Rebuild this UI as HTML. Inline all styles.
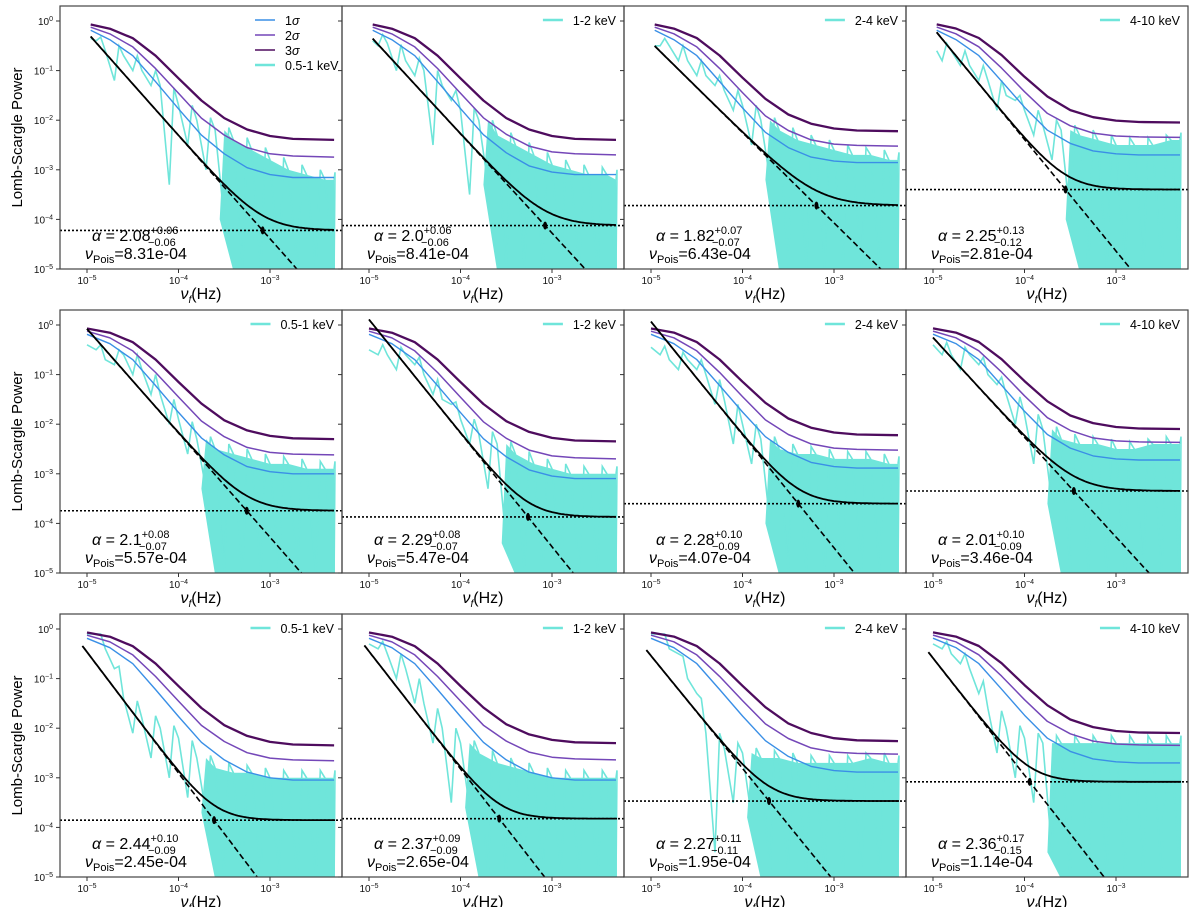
<!DOCTYPE html>
<html><head><meta charset="utf-8"><style>
body{margin:0;background:#fff;}
svg{display:block;font-family:"Liberation Sans","DejaVu Sans",sans-serif;}
</style></head><body>
<svg id="fig" width="1200" height="907" viewBox="0 0 1200 907"></svg>
<script>
// ---- data ----
const bands = ["0.5-1 keV","1-2 keV","2-4 keV","4-10 keV"];
const alphaVals = [2.08,2.0,1.82,2.25, 2.1,2.29,2.28,2.01, 2.44,2.37,2.27,2.36];
const alphaLabels = ["2.08","2.0","1.82","2.25","2.1","2.29","2.28","2.01","2.44","2.37","2.27","2.36"];
const alphaPlus = ["0.06","0.06","0.07","0.13","0.08","0.08","0.10","0.10","0.10","0.09","0.11","0.17"];
const alphaMinus = ["0.06","0.06","0.07","0.12","0.07","0.07","0.09","0.09","0.09","0.09","0.11","0.15"];
const nuPois = [8.31e-4,8.41e-4,6.43e-4,2.81e-4, 5.57e-4,5.47e-4,4.07e-4,3.46e-4, 2.45e-4,2.65e-4,1.95e-4,1.14e-4];
const nuLabels = ["8.31e-04","8.41e-04","6.43e-04","2.81e-04","5.57e-04","5.47e-04","4.07e-04","3.46e-04","2.45e-04","2.65e-04","1.95e-04","1.14e-04"];
const floors = [6e-5,7.5e-5,1.9e-4,4e-4, 1.8e-4,1.35e-4,2.5e-4,4.5e-4, 1.4e-4,1.5e-4,3.4e-4,8.3e-4];
const rowStartLogF = [-4.96,-5.0,-5.05];
// sigma plateaus per panel
const plat3 = [4e-3,4e-3,6e-3,9e-3, 5e-3,4.5e-3,6e-3,8e-3, 4.5e-3,5e-3,5.5e-3,8e-3];
const plat2 = [1.8e-3,2e-3,3e-3,4.5e-3, 2.4e-3,2e-3,3e-3,4.3e-3, 2.2e-3,2.3e-3,3e-3,4.5e-3];
const plat1 = [7e-4,8e-4,1.4e-3,2e-3, 1e-3,8e-4,1.3e-3,1.9e-3, 9e-4,9e-4,1.3e-3,2e-3];
// shared sigma curve shape (excess above plateau)
const sigKnotsLogF = [-5,-4.75,-4.5,-4.25,-4,-3.75,-3.5,-3.25,-3,-2.75,-2.3];
const sig3Excess = [0.846,0.696,0.446,0.196,0.066,0.021,0.007,0.0025,0.0008,0.0002,0];
const sig2Excess = [0.748,0.548,0.298,0.108,0.033,0.0092,0.0032,0.001,0.0003,0.0001,0];
const sig1Excess = [0.649,0.419,0.199,0.059,0.0163,0.0043,0.0014,0.0004,0.0001,0,0];
// cyan periodogram envelopes (log10 power)
const cyanLogF = [-5,-4.8,-4.6,-4.4,-4.2,-4.0,-3.8,-3.6,-3.4,-3.2,-3.0,-2.8,-2.6,-2.4,-2.3];
const cyanTop = [
 [-0.35,-0.6,-0.7,-1.0,-1.3,-1.7,-2.0,-2.2,-2.4,-2.6,-2.8,-3.0,-3.1,-3.2,-3.2],
 [-0.4,-0.45,-0.8,-1.0,-1.3,-1.8,-2.0,-2.3,-2.5,-2.7,-2.9,-3.0,-3.1,-3.1,-3.2],
 [-0.5,-0.5,-0.8,-1.1,-1.4,-1.7,-2.0,-2.2,-2.4,-2.5,-2.6,-2.7,-2.7,-2.8,-2.8],
 [-0.6,-0.6,-0.9,-1.2,-1.5,-1.8,-2.1,-2.2,-2.3,-2.4,-2.5,-2.5,-2.5,-2.4,-2.4],
 [-0.4,-0.7,-0.6,-0.9,-1.4,-1.9,-2.3,-2.5,-2.6,-2.7,-2.8,-2.8,-2.9,-2.9,-2.9],
 [-0.5,-0.6,-0.6,-1.0,-1.5,-1.9,-2.2,-2.4,-2.6,-2.8,-2.9,-3.0,-3.0,-3.0,-3.0],
 [-0.45,-0.7,-0.7,-1.0,-1.5,-2.0,-2.3,-2.5,-2.6,-2.6,-2.7,-2.7,-2.7,-2.8,-2.8],
 [-0.4,-0.6,-0.6,-1.0,-1.4,-1.8,-2.1,-2.3,-2.4,-2.4,-2.5,-2.5,-2.4,-2.4,-2.4],
 [-0.1,-0.4,-1.4,-1.8,-2.0,-2.2,-2.6,-2.8,-2.9,-2.9,-3.0,-3.0,-3.0,-3.0,-3.0],
 [-0.3,-0.5,-0.8,-1.5,-2.0,-2.3,-2.5,-2.7,-2.8,-2.9,-3.0,-3.0,-3.0,-3.0,-3.0],
 [-0.1,-0.4,-1.0,-2.1,-2.4,-2.5,-2.6,-2.6,-2.7,-2.7,-2.7,-2.7,-2.6,-2.7,-2.7],
 [-0.3,-0.5,-0.8,-1.6,-2.0,-2.2,-2.3,-2.3,-2.3,-2.3,-2.3,-2.3,-2.3,-2.3,-2.3]];
const cyanBot = [
 [-0.4,-1.2,-1.0,-1.3,-3.3,-2.5,-3.0,-4.0,-5,-5,-5,-5,-5,-5,-5],
 [-0.5,-1.0,-1.1,-2.5,-1.6,-3.5,-3.3,-5,-5,-5,-5,-5,-5,-5,-5],
 [-0.5,-0.8,-1.1,-1.3,-1.8,-2.5,-3.2,-5,-5,-5,-5,-5,-5,-5,-5],
 [-0.8,-0.9,-1.2,-1.8,-1.6,-2.3,-2.8,-4.0,-5,-5,-5,-5,-5,-5,-5],
 [-0.5,-0.8,-1.0,-1.4,-2.0,-2.6,-3.3,-5,-5,-5,-5,-5,-5,-5,-5],
 [-0.6,-0.9,-0.8,-1.4,-1.6,-2.4,-3.3,-4.4,-5,-5,-5,-5,-5,-5,-5],
 [-0.6,-0.9,-0.9,-1.6,-2.4,-2.8,-4.0,-5,-5,-5,-5,-5,-5,-5,-5],
 [-0.6,-0.9,-0.8,-1.2,-2.0,-2.8,-3.6,-5,-5,-5,-5,-5,-5,-5,-5],
 [-0.1,-0.8,-2.1,-2.6,-3.0,-3.4,-3.7,-5,-5,-5,-5,-5,-5,-5,-5],
 [-0.4,-1.0,-1.5,-2.3,-3.5,-3.6,-5,-5,-5,-5,-5,-5,-5,-5,-5],
 [-0.1,-0.5,-1.3,-4.5,-3.5,-3.8,-5,-5,-5,-5,-5,-5,-5,-5,-5],
 [-0.4,-0.7,-1.3,-2.5,-3.0,-3.5,-4.5,-5,-5,-5,-5,-5,-5,-5,-5]];
const xTickExp = [-5,-4,-3];
const yTickExp = [0,-1,-2,-3,-4,-5];

// ---- layout ----
const NS="http://www.w3.org/2000/svg";
const svg=document.getElementById('fig');
const rowTops=[6,310,614], colLefts=[60,342,624,906], PW=282, PH=263;
const LOGF_MAX=-2.29;
function el(tag,attrs,parent){const e=document.createElementNS(NS,tag);for(const k in attrs)e.setAttribute(k,attrs[k]);(parent||svg).appendChild(e);return e;}
const defs=el('defs',{});
const CYAN='#6fe5da';

for(let r=0;r<3;r++){
 for(let c=0;c<4;c++){
  const i=r*4+c, L=colLefts[c], T=rowTops[r];
  const xs=lf=>L+27+(lf+5)*91.5;
  const ys=lv=>T+15-lv*49.6;
  const g=el('g',{});
  
  
  const cp=el('clipPath',{id:'cp'+i},defs);
  el('rect',{x:L,y:T,width:PW,height:PH},cp);
  const dg=el('g',{'clip-path':'url(#cp'+i+')'},g);
  const f0=rowStartLogF[r];
  const top=cyanTop[i], bot=cyanBot[i];
  const clampF=lf=>Math.min(Math.max(lf,f0),LOGF_MAX);
  // dense (noise-dominated) region fill, with slanted leading edge
  let kd=bot.findIndex(v=>v<=-4.9);
  if(kd>=0){
   const k0=Math.max(kd-1,0);
   let pts=[xs(clampF(cyanLogF[kd])).toFixed(1)+','+(T+PH+2)];
   pts.push(xs(clampF(cyanLogF[k0]+0.05)).toFixed(1)+','+ys(bot[k0]).toFixed(1));
   pts.push(xs(clampF(cyanLogF[k0]+0.1)).toFixed(1)+','+ys(top[k0]).toFixed(1));
   for(let k=kd;k<cyanLogF.length;k++)pts.push(xs(clampF(cyanLogF[k])).toFixed(1)+','+ys(top[k]).toFixed(1));
   pts.push(xs(LOGF_MAX).toFixed(1)+','+(T+PH+2));
   const area=el('polygon',{points:pts.join(' '),fill:CYAN,stroke:'none'},dg);
   
   
  }
  // spiky line: alternate top and dip values
  let zz=[];
  cyanLogF.forEach((lf,k)=>{
   zz.push(xs(clampF(lf)).toFixed(1)+','+ys(top[k]).toFixed(1));
   if(k<cyanLogF.length-1){
    zz.push(xs(clampF(lf+0.1)).toFixed(1)+','+ys(Math.max(bot[k],-5.3)).toFixed(1));
    zz.push(xs(clampF(lf+0.15)).toFixed(1)+','+ys((top[k]+top[k+1])/2+0.15).toFixed(1));
   }
  });
  const cl=el('polyline',{points:zz.join(' '),fill:'none',stroke:CYAN,'stroke-width':1.6},dg);
  
  
  // sigma curves
  const sig=[[sig1Excess,plat1[i],'#3a8fe6',1.4,'sigma1-curve'],[sig2Excess,plat2[i],'#7447b8',1.5,'sigma2-curve'],[sig3Excess,plat3[i],'#4e0c5e',2.3,'sigma3-curve']];
  sig.forEach(s=>{
   const pts=sigKnotsLogF.map((lf,k)=>{const f=clampF(lf);return xs(f).toFixed(1)+','+ys(Math.log10(s[0][k]+s[1])).toFixed(1);});
   const p=el('polyline',{points:pts.join(' '),fill:'none',stroke:s[2],'stroke-width':s[3],'stroke-linejoin':'round'},dg);
   
   
  });
  // fit model
  const a=alphaVals[i], C=floors[i], lnu=Math.log10(nuPois[i]), lC=Math.log10(C);
  let sol=[],dsh=[];
  for(let lf=f0;lf<=LOGF_MAX+1e-9;lf+=0.02){
   const pl=lC+a*(lnu-lf);
   sol.push(xs(lf).toFixed(1)+','+ys(Math.log10(Math.pow(10,pl)+C)).toFixed(1));
   dsh.push(xs(lf).toFixed(1)+','+ys(pl).toFixed(1));
  }
  const dl=el('polyline',{points:dsh.join(' '),fill:'none',stroke:'#000','stroke-width':1.6,'stroke-dasharray':'6,3'},dg);
  
  
  const sl=el('polyline',{points:sol.join(' '),fill:'none',stroke:'#000','stroke-width':1.8},dg);
  
  
  const hl=el('line',{x1:L,x2:L+PW,y1:ys(lC),y2:ys(lC),stroke:'#000','stroke-width':1.6,'stroke-dasharray':'2,2'},g);
  
  
  const mk=el('ellipse',{cx:xs(lnu),cy:ys(lC),rx:2,ry:4,fill:'#000'},dg);
  
  
  // frame
  const fr=el('rect',{x:L,y:T,width:PW,height:PH,fill:'none',stroke:'#444','stroke-width':1.2},g);
  
  
  // ticks
  xTickExp.forEach(e=>{
   const X=xs(e);
   el('line',{x1:X,x2:X,y1:T+PH,y2:T+PH+4,stroke:'#333'},g);
   const t=el('text',{x:X,y:T+PH+15,'font-size':10,'text-anchor':'middle',fill:'#111'},g);
   
   
   t.innerHTML='10<tspan dy="-4" font-size="7">\u2212'+(-e)+'</tspan>';
  });
  yTickExp.forEach(e=>{
   const Y=ys(e);
   el('line',{x1:L-4,x2:L,y1:Y,y2:Y,stroke:'#333'},g);
   if(c===0){
    const t=el('text',{x:L-7,y:Y+4,'font-size':10,'text-anchor':'end',fill:'#111'},g);
    
    
    t.innerHTML='10<tspan dy="-4" font-size="7">'+(e===0?'0':'\u2212'+(-e))+'</tspan>';
   }
  });
  const xl=el('text',{x:L+141,y:T+PH+30,'font-size':16,'text-anchor':'middle',fill:'#000'},g);
  
  
  xl.innerHTML='<tspan font-style="italic">\u03bd</tspan><tspan font-size="10" dy="4" font-style="italic">f</tspan><tspan dy="-4">(Hz)</tspan>';
  if(c===0){
   const yl=el('text',{x:0,y:0,'font-size':15,'text-anchor':'middle',fill:'#000',transform:'translate('+22+','+(T+PH/2)+') rotate(-90)'},g);
   
   
   yl.textContent='Lomb-Scargle Power';
  }
  // annotation
  const at=el('text',{x:L+32,y:T+PH-28,'font-size':16,fill:'#000'},g);
  
  
  at.innerHTML='<tspan font-style="italic">\u03b1</tspan> = '+alphaLabels[i]+'<tspan font-size="11" dy="-7">+'+alphaPlus[i]+'</tspan><tspan font-size="11" dx="-'+(alphaPlus[i].length*6.1+6)+'" dy="12">\u2212'+alphaMinus[i]+'</tspan>';
  const nt=el('text',{x:L+25,y:T+PH-10,'font-size':16,fill:'#000'},g);
  
  
  nt.innerHTML='<tspan font-style="italic">\u03bd</tspan><tspan font-size="11" dy="4">Pois</tspan><tspan dy="-4">='+nuLabels[i]+'</tspan>';
  // legend
  const lg=el('g',{},g);
  
  
  let entries=[];
  if(i===0) entries=[['1\u03c3','#3a8fe6',1.5],['2\u03c3','#7447b8',1.5],['3\u03c3','#4e0c5e',1.5],[bands[0],CYAN,2.5]];
  else entries=[[bands[c],CYAN,2.5]];
  entries.forEach((en,k)=>{
   const Y=T+14+k*15;
   const le=el('g',{},lg);
   
   
   let tx,lx;
   if(i===0){lx=L+195;tx=L+225;}else{tx=L+PW-8;lx=null;}
   const t=el('text',{x:tx,y:Y+5,'font-size':12.5,fill:'#000','text-anchor':i===0?'start':'end'},le);
   if(en[0].indexOf('\u03c3')>=0){t.innerHTML=en[0][0]+'<tspan font-style="italic">\u03c3</tspan>';}else t.textContent=en[0];
   if(lx===null){lx=tx-t.getComputedTextLength()-30;}
   el('line',{x1:lx,x2:lx+20,y1:Y,y2:Y,stroke:en[1],'stroke-width':en[2]},le);
  });
 }
}
</script>
</body></html>
